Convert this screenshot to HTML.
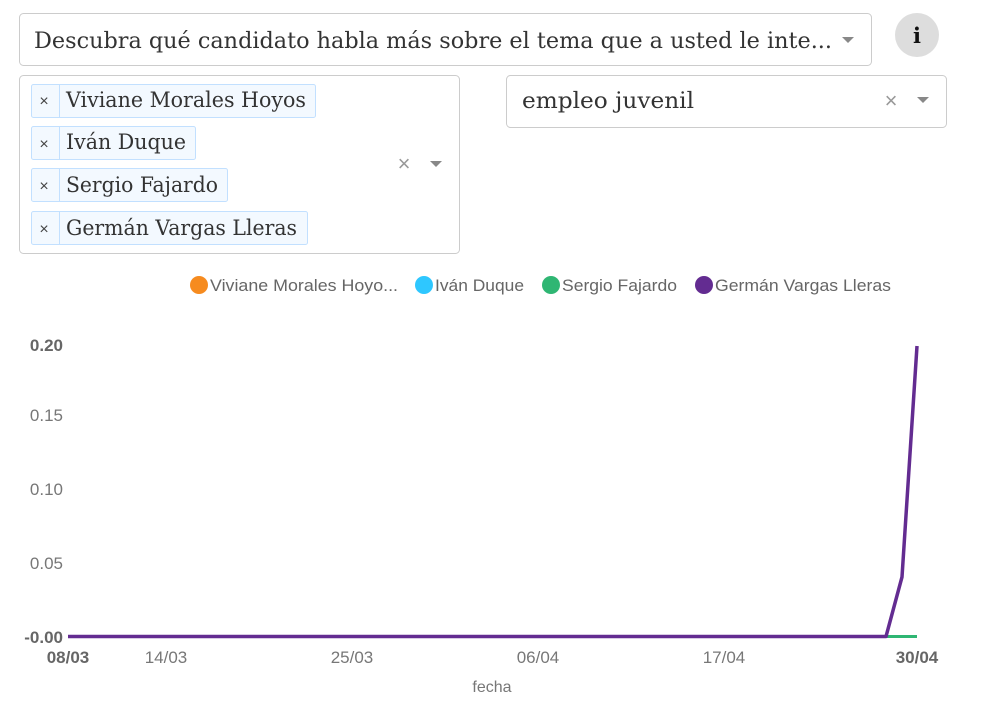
<!DOCTYPE html>
<html><head><meta charset="utf-8"><style>
html,body{margin:0;padding:0;background:#fff;width:984px;height:705px;overflow:hidden}
svg{display:block}
.s{font-family:"DejaVu Serif","Liberation Serif",serif;fill:#333}
.a{font-family:"Liberation Sans",sans-serif}
</style></head><body>
<svg width="984" height="705" xmlns="http://www.w3.org/2000/svg">
<rect x="19.5" y="13.5" width="852" height="52" rx="4" fill="#fff" stroke="#ccc"/>
<text class="s" x="34" y="48" font-size="22" textLength="798" lengthAdjust="spacingAndGlyphs">Descubra qué candidato habla más sobre el tema que a usted le inte...</text>
<path d="M842 37h12l-6 6z" fill="#888"/>
<circle cx="917" cy="35" r="22" fill="#ddd"/>
<text x="917" y="43" text-anchor="middle" font-family="DejaVu Serif,serif" font-weight="bold" font-size="21" fill="#111">i</text>

<rect x="19.5" y="75.5" width="440" height="178" rx="4" fill="#fff" stroke="#ccc"/>
<g font-size="21">
<rect x="31.5" y="84.5" width="284" height="33" rx="2" fill="#f3f9ff" stroke="#c2e0ff"/><line x1="59.5" y1="85" x2="59.5" y2="117" stroke="#c2e0ff"/>
<text class="a" x="44" y="106" font-size="16" fill="#444" text-anchor="middle">×</text>
<text class="s" x="66" y="107" textLength="240" lengthAdjust="spacingAndGlyphs">Viviane Morales Hoyos</text>
<rect x="31.5" y="126.5" width="164" height="33" rx="2" fill="#f3f9ff" stroke="#c2e0ff"/><line x1="59.5" y1="127" x2="59.5" y2="159" stroke="#c2e0ff"/>
<text class="a" x="44" y="149" font-size="16" fill="#444" text-anchor="middle">×</text>
<text class="s" x="66" y="149" textLength="120" lengthAdjust="spacingAndGlyphs">Iván Duque</text>
<rect x="31.5" y="168.5" width="196" height="33" rx="2" fill="#f3f9ff" stroke="#c2e0ff"/><line x1="59.5" y1="169" x2="59.5" y2="201" stroke="#c2e0ff"/>
<text class="a" x="44" y="191" font-size="16" fill="#444" text-anchor="middle">×</text>
<text class="s" x="66" y="192" textLength="152" lengthAdjust="spacingAndGlyphs">Sergio Fajardo</text>
<rect x="31.5" y="211.5" width="276" height="33" rx="2" fill="#f3f9ff" stroke="#c2e0ff"/><line x1="59.5" y1="212" x2="59.5" y2="244" stroke="#c2e0ff"/>
<text class="a" x="44" y="234" font-size="16" fill="#444" text-anchor="middle">×</text>
<text class="s" x="66" y="235" textLength="231" lengthAdjust="spacingAndGlyphs">Germán Vargas Lleras</text>
</g>
<text class="a" x="404" y="171" font-size="22" fill="#999" text-anchor="middle">×</text>
<path d="M430 161h12l-6 6z" fill="#888"/>

<rect x="506.5" y="75.5" width="440" height="52" rx="4" fill="#fff" stroke="#ccc"/>
<text class="s" x="522" y="108" font-size="22" textLength="172" lengthAdjust="spacingAndGlyphs">empleo juvenil</text>
<text class="a" x="891" y="108" font-size="22" fill="#999" text-anchor="middle">×</text>
<path d="M917 97h12l-6 6z" fill="#888"/>

<g class="a" font-size="17" fill="#666">
<circle cx="199" cy="285" r="9" fill="#f68b1f"/><text x="210" y="291" textLength="188" lengthAdjust="spacingAndGlyphs">Viviane Morales Hoyo...</text>
<circle cx="424" cy="285" r="9" fill="#2ec7ff"/><text x="435" y="291" textLength="89" lengthAdjust="spacingAndGlyphs">Iván Duque</text>
<circle cx="551" cy="285" r="9" fill="#2fb673"/><text x="562" y="291" textLength="115" lengthAdjust="spacingAndGlyphs">Sergio Fajardo</text>
<circle cx="704" cy="285" r="9" fill="#632c91"/><text x="715" y="291" textLength="176" lengthAdjust="spacingAndGlyphs">Germán Vargas Lleras</text>
</g>

<g class="a" font-size="17" fill="#777" text-anchor="end">
<text x="63" y="351" font-weight="bold" fill="#666">0.20</text>
<text x="63" y="421">0.15</text>
<text x="63" y="495">0.10</text>
<text x="63" y="569">0.05</text>
<text x="63" y="643" font-weight="bold" fill="#666">-0.00</text>
</g>
<g class="a" font-size="17" fill="#777" text-anchor="middle">
<text x="68" y="663" font-weight="bold" fill="#666">08/03</text>
<text x="166" y="663">14/03</text>
<text x="352" y="663">25/03</text>
<text x="538" y="663">06/04</text>
<text x="724" y="663">17/04</text>
<text x="917" y="663" font-weight="bold" fill="#666">30/04</text>
<text x="492" y="692" font-size="16">fecha</text>
</g>

<line x1="886" y1="636.5" x2="917" y2="636.5" stroke="#2fb673" stroke-width="3"/>
<polyline points="68,636.5 886,636.5 902,577 917,346" fill="none" stroke="#632c91" stroke-width="3.5" stroke-linejoin="round"/>
</svg>
</body></html>
